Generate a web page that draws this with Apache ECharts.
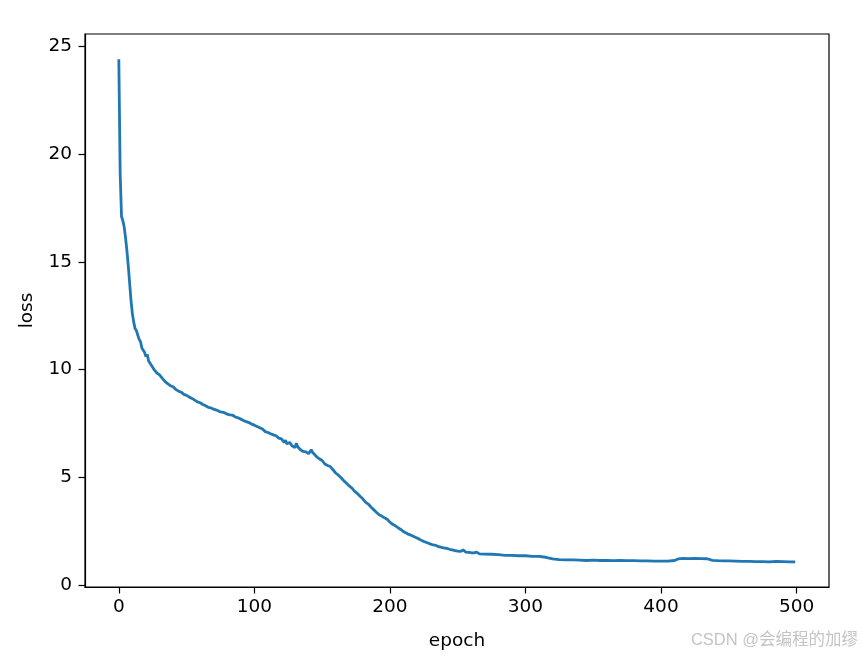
<!DOCTYPE html>
<html>
<head>
<meta charset="utf-8">
<script src="https://cdn.jsdelivr.net/npm/echarts@6/dist/echarts.min.js"></script>
<style>html,body{margin:0;padding:0;background:#fff}#c{width:862px;height:656px}</style>
</head>
<body>
<div id="c"></div>
<script>
const epochs = [0,1,2,3,4,5,6,7,8,9,10,11,12,13,14,15,16,17,18,19,20,21,22,23,24,25,26,27,28,29,30,32,34,36,38,40,42,44,46,48,50,52,54,56,58,60,62,64,66,68,70,72,74,76,78,80,82,83,84,86,88,90,92,94,96,98,100,102,104,106,108,110,112,114,116,118,120,122,123,124,126,128,130,131,132,134,136,138,140,142,143,144,146,148,150,151,152,154,156,158,159,160,162,164,166,168,170,172,174,176,178,180,182,184,186,188,190,192,194,196,198,200,202,204,206,208,210,212,214,216,218,220,222,224,226,228,230,232,234,236,238,240,242,244,246,248,250,252,254,256,258,260,262,264,266,270,275,280,285,290,295,300,305,310,315,320,325,330,335,340,345,350,355,360,365,370,375,380,385,390,395,400,405,410,413,416,420,425,430,434,438,442,446,450,455,460,465,470,475,480,485,490,495,499];
const loss = [24.4,19.1,17.1,16.9,16.6,16.1,15.5,14.8,14.0,13.2,12.6,12.2,11.9,11.8,11.6,11.4,11.3,11.0,10.9,10.8,10.6,10.7,10.4,10.35,10.2,10.25,10.0,9.95,9.85,9.9,9.75,9.6,9.45,9.35,9.25,9.2,9.08,9.0,8.95,8.85,8.8,8.72,8.66,8.58,8.5,8.46,8.38,8.32,8.25,8.22,8.16,8.12,8.06,8.02,8.0,7.93,7.9,7.98,7.88,7.8,7.76,7.7,7.64,7.58,7.54,7.47,7.42,7.36,7.3,7.24,7.12,7.08,7.02,6.97,6.93,6.82,6.78,6.62,6.72,6.55,6.62,6.45,6.38,6.58,6.42,6.28,6.2,6.18,6.1,6.28,6.15,6.22,5.95,5.86,5.78,5.82,5.62,5.55,5.5,5.35,5.4,5.2,5.1,4.98,4.84,4.72,4.6,4.5,4.35,4.25,4.12,4.0,3.85,3.76,3.62,3.5,3.38,3.26,3.2,3.12,3.05,2.92,2.82,2.75,2.66,2.58,2.48,2.42,2.35,2.3,2.24,2.18,2.12,2.05,2.0,1.95,1.9,1.86,1.84,1.78,1.75,1.72,1.7,1.66,1.63,1.6,1.57,1.56,1.63,1.53,1.52,1.5,1.49,1.53,1.45,1.44,1.43,1.41,1.38,1.38,1.36,1.36,1.33,1.33,1.29,1.22,1.18,1.17,1.17,1.16,1.14,1.16,1.14,1.14,1.13,1.14,1.13,1.13,1.12,1.12,1.11,1.11,1.11,1.14,1.22,1.24,1.23,1.24,1.23,1.22,1.15,1.13,1.12,1.12,1.11,1.1,1.1,1.09,1.09,1.08,1.1,1.09,1.08,1.08];
const xTicks = [0,100,200,300,400,500];
const yTicks = [0,5,10,15,20,25];

const chart = echarts.init(document.getElementById('c'), null, {renderer:'canvas'});
const font = 'DejaVu Sans';
const fs = 18.5;
chart.setOption({
  animation:false,
  backgroundColor:'#fff',
  grid:{left:85,right:33,top:34,bottom:68,show:true,borderColor:'#000',borderWidth:1.2,backgroundColor:'transparent'},
  xAxis:{type:'value',min:-24.95,max:523.95,
    name:'epoch',nameLocation:'middle',nameGap:45,nameTextStyle:{fontFamily:font,fontSize:fs,color:'#000'},
    axisLine:{show:true,onZero:false,lineStyle:{color:'#000',width:1.2}},
    axisTick:{show:true,inside:false,length:6.5,lineStyle:{color:'#000',width:1.2},customValues:xTicks},
    axisLabel:{fontFamily:font,fontSize:fs,color:'#000',margin:11,customValues:xTicks},
    splitLine:{show:false}},
  yAxis:{type:'value',min:-0.09,max:25.57,
    name:'loss',nameLocation:'middle',nameGap:48,nameTextStyle:{fontFamily:font,fontSize:fs,color:'#000'},
    axisLine:{show:true,onZero:false,lineStyle:{color:'#000',width:1.2}},
    axisTick:{show:true,inside:false,length:6.5,lineStyle:{color:'#000',width:1.2},customValues:yTicks},
    axisLabel:{fontFamily:font,fontSize:fs,color:'#000',margin:13,customValues:yTicks},
    splitLine:{show:false}},
  graphic:[{type:'text',right:4,top:632,style:{text:'CSDN @会编程的加缪',fill:'#c4c4c4',font:'16.5px "Liberation Sans", "Noto Sans CJK SC", sans-serif'}}],
  series:[{type:'line',data:epochs.map((e,i)=>[e,loss[i]]),showSymbol:false,
    lineStyle:{color:'#1f77b4',width:2.8},itemStyle:{color:'#1f77b4'}}]
});
</script>
</body>
</html>
